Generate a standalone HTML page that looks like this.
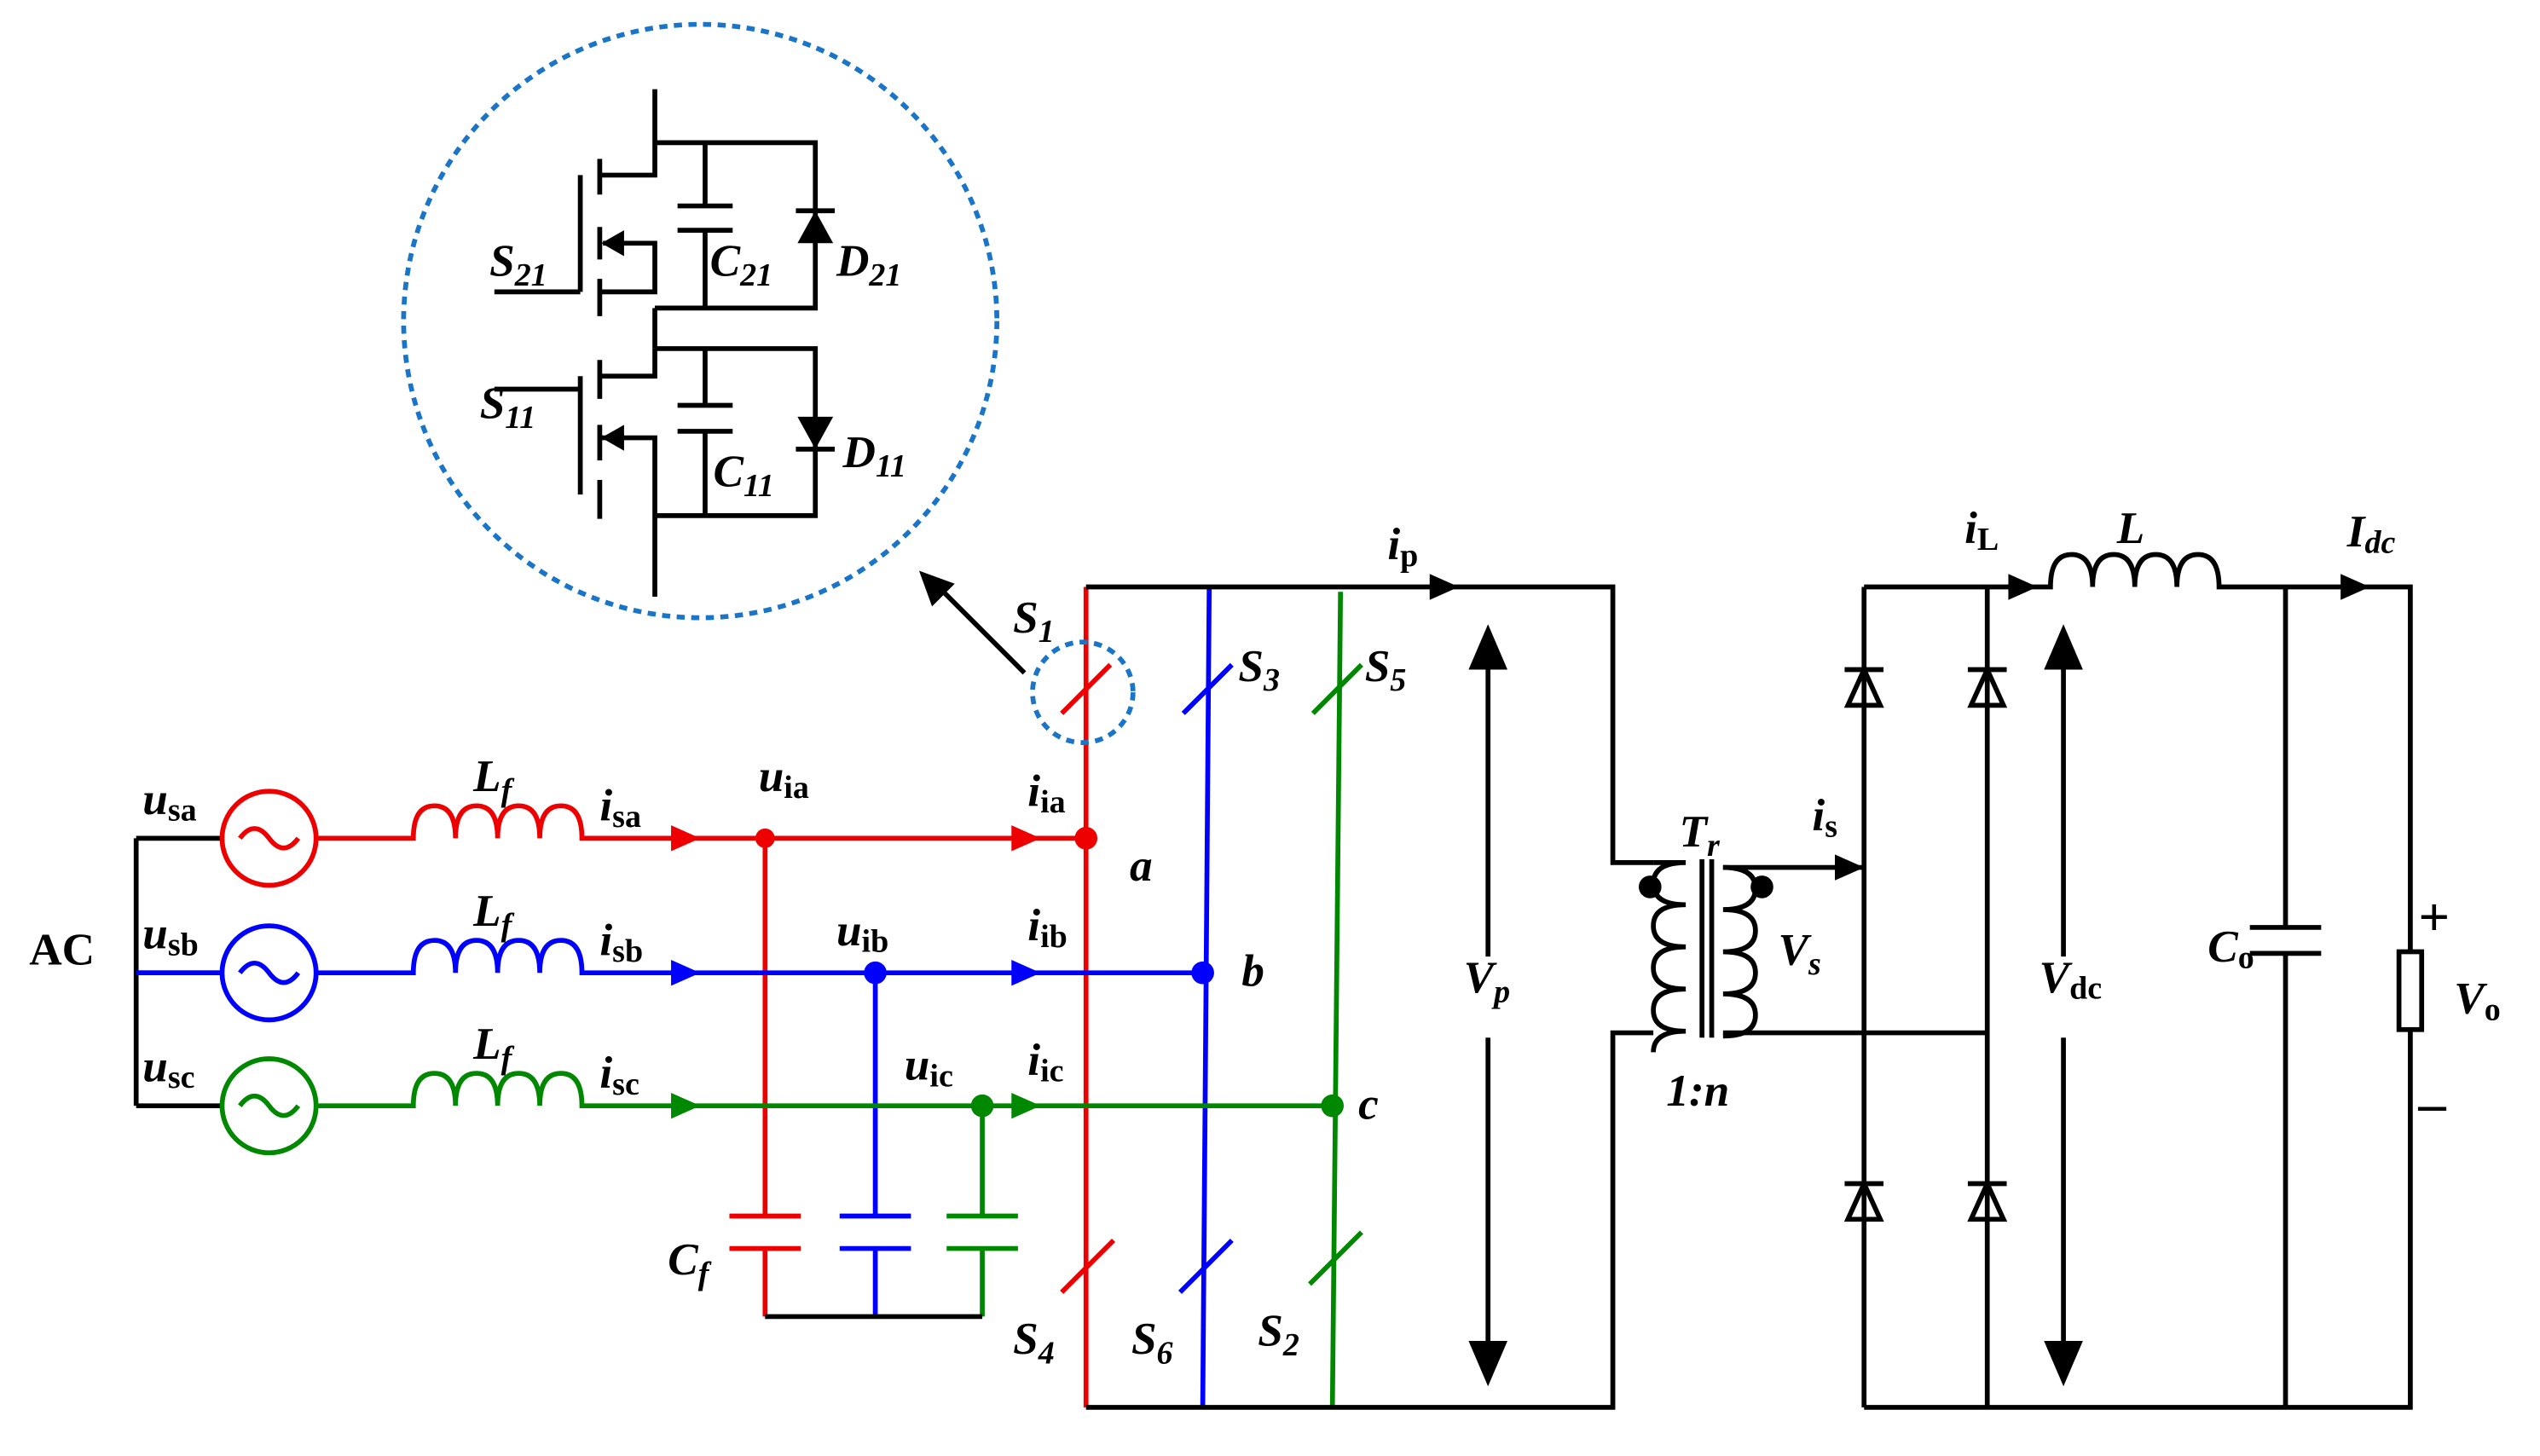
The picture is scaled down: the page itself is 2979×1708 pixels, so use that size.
<!DOCTYPE html>
<html><head><meta charset="utf-8"><style>
html,body{margin:0;padding:0;background:#fff;width:2979px;height:1708px;overflow:hidden}
svg{display:block}
text{font-family:"Liberation Serif",serif;font-weight:bold;font-style:italic}
.n{font-style:normal}
</style></head><body>
<svg width="2979" height="1708" viewBox="0 0 1567 898" preserveAspectRatio="none" xmlns="http://www.w3.org/2000/svg">
<g fill="none" stroke-width="3">
<path d="M84,517V682M84,517H137M84,600H137M84,682H137" stroke="#000"/>
<g stroke="#e00">
<circle cx="166" cy="517" r="29"/><path d="M148,517q9,-12 18,0t18,0"/>
<path d="M195,517H255q0,-20 13,-20t13,20q0,-20 13,-20t13,20q0,-20 13,-20t13,20q0,-20 13,-20t13,20H670"/>
<path d="M472,517V750M450,750H494M450,770H494M472,770V812"/>
<path d="M670,362V868"/>
<path d="M655,440L685,410M655,797L687,765"/>
</g>
<g stroke="#00f">
<circle cx="166" cy="600" r="29"/><path d="M148,600q9,-12 18,0t18,0"/>
<path d="M84,600H137M195,600H255q0,-20 13,-20t13,20q0,-20 13,-20t13,20q0,-20 13,-20t13,20q0,-20 13,-20t13,20H742"/>
<path d="M540,600V750M518,750H562M518,770H562M540,770V812"/>
<path d="M746,362L742,868"/>
<path d="M730,440L760,410M728,797L760,765"/>
</g>
<g stroke="#080">
<circle cx="166" cy="682" r="29"/><path d="M148,682q9,-12 18,0t18,0"/>
<path d="M195,682H255q0,-20 13,-20t13,20q0,-20 13,-20t13,20q0,-20 13,-20t13,20q0,-20 13,-20t13,20H822"/>
<path d="M606,682V750M584,750H628M584,770H628M606,770V812"/>
<path d="M827,365L822,868"/>
<path d="M810,440L840,410M808,792L840,760"/>
</g>
<path d="M472,812H606" stroke="#000"/>
<path d="M670,362H995V532H1020M670,868H995V637H1020" stroke="#000"/>
<path d="M1020,532H1040q-20,0 -20,13t20,13q-20,0 -20,13t20,13q-20,0 -20,13t20,13q-20,0 -20,13t20,13q-20,0 -20,13H1020" stroke="#000"/>
<path d="M1050,530V640M1056,530V640" stroke="#000"/>
<path d="M1063,535q20,0 20,13t-20,13q20,0 20,13t-20,13q20,0 20,13t-20,13q20,0 20,13t-20,13" stroke="#000"/>
<path d="M1063,535H1150M1063,637H1226" stroke="#000"/>
<path d="M1150,362V868M1226,362V868M1150,362H1265q0,-20 13,-20t13,20q0,-20 13,-20t13,20q0,-20 13,-20t13,20q0,-20 13,-20t13,20H1487V587M1487,635V868H1150" stroke="#000"/>
<path d="M1410,362V572M1388,572H1432M1388,588H1432M1410,588V868" stroke="#000"/>
<rect x="1480" y="587" width="14" height="48" stroke="#000"/>
<path d="M918,590V392M918,640V848M1273,590V392M1273,640V848" stroke="#000"/>
<circle cx="668" cy="427" r="31" stroke="#1a75c9" stroke-dasharray="5,4"/>
<circle cx="432" cy="198" r="183" stroke="#1a75c9" stroke-dasharray="5,4"/>
<path d="M632,415L575,358" stroke="#000"/>
<g stroke="#000">
<path d="M404,55V108H370M404,88H503V190H404M435,88V127M418,127H452M418,142H452M435,142V190"/>
<path d="M370,98V120M370,140V160M370,172V195M358,108V180M305,180H358M370,180H404V150H372M404,190V215"/>
<path d="M404,215H503V318H404M435,215V250M418,250H452M418,266H452M435,266V318"/>
<path d="M404,215V232H370M370,222V246M370,262V284M370,296V320M358,232V305M330,240H358M330,240H305M370,270H404V318M404,318V368"/>
</g>
</g>
<g fill="#000">
<path d="M567,352l22,8l-14,14z"/>
<path d="M918,385l-12,28h24zM918,855l-12,-28h24zM1273,385l-12,28h24zM1273,855l-12,-28h24z"/>
<path d="M900,362l-18,-8v16zM1257,362l-18,-8v16zM1462,362l-18,-8v16zM1150,535l-18,-8v16z"/>
<circle cx="1018" cy="547" r="7"/><circle cx="1087" cy="547" r="7"/>
<path d="M1150,413l-10,22h20zM1226,413l-10,22h20zM1150,730l-10,22h20zM1226,730l-10,22h20z" fill="none" stroke="#000" stroke-width="3"/>
<path d="M1138,413h24M1214,413h24M1138,730h24M1214,730h24" stroke="#000" stroke-width="3"/>
<path d="M503,130l-11,20h22z"/><path d="M491,130h24" stroke="#000" stroke-width="3"/>
<path d="M503,277l-11,-20h22z"/><path d="M491,277h24" stroke="#000" stroke-width="3"/>
<path d="M371,150l14,-8v16zM371,270l14,-8v16z"/>
</g>
<g fill="#e00"><path d="M432,517l-18,-8v16zM642,517l-18,-8v16z"/><circle cx="472" cy="517" r="6"/><circle cx="670" cy="517" r="7"/></g>
<g fill="#00f"><path d="M432,600l-18,-8v16zM642,600l-18,-8v16z"/><circle cx="540" cy="600" r="7"/><circle cx="742" cy="600" r="7"/></g>
<g fill="#080"><path d="M432,682l-18,-8v16zM642,682l-18,-8v16z"/><circle cx="606" cy="682" r="7"/><circle cx="822" cy="682" r="7"/></g>
<g font-size="28" fill="#000">
<text x="18" y="595" class="n">AC</text>
<text x="88" y="502">u<tspan class="n" font-size="20" dy="4">sa</tspan></text>
<text x="88" y="585">u<tspan class="n" font-size="20" dy="4">sb</tspan></text>
<text x="88" y="667">u<tspan class="n" font-size="20" dy="4">sc</tspan></text>
<text x="292" y="488">L<tspan font-size="20" dy="6">f</tspan></text>
<text x="292" y="571">L<tspan font-size="20" dy="6">f</tspan></text>
<text x="292" y="653">L<tspan font-size="20" dy="6">f</tspan></text>
<text x="370" y="506">i<tspan class="n" font-size="20" dy="4">sa</tspan></text>
<text x="370" y="589">i<tspan class="n" font-size="20" dy="4">sb</tspan></text>
<text x="370" y="671">i<tspan class="n" font-size="20" dy="4">sc</tspan></text>
<text x="468" y="488">u<tspan class="n" font-size="20" dy="4">ia</tspan></text>
<text x="516" y="583">u<tspan class="n" font-size="20" dy="4">ib</tspan></text>
<text x="558" y="666">u<tspan class="n" font-size="20" dy="4">ic</tspan></text>
<text x="634" y="497">i<tspan class="n" font-size="20" dy="4">ia</tspan></text>
<text x="634" y="580">i<tspan class="n" font-size="20" dy="4">ib</tspan></text>
<text x="634" y="663">i<tspan class="n" font-size="20" dy="4">ic</tspan></text>
<text x="697" y="543">a</text><text x="766" y="608">b</text><text x="838" y="690">c</text>
<text x="412" y="786">C<tspan font-size="20" dy="6">f</tspan></text>
<text x="625" y="390">S<tspan font-size="20" dy="6">1</tspan></text>
<text x="764" y="420">S<tspan font-size="20" dy="6">3</tspan></text>
<text x="842" y="420">S<tspan font-size="20" dy="6">5</tspan></text>
<text x="625" y="835">S<tspan font-size="20" dy="6">4</tspan></text>
<text x="698" y="835">S<tspan font-size="20" dy="6">6</tspan></text>
<text x="776" y="830">S<tspan font-size="20" dy="6">2</tspan></text>
<text x="856" y="345">i<tspan class="n" font-size="20" dy="4">p</tspan></text>
<text x="903" y="612">V<tspan font-size="20" dy="6">p</tspan></text>
<text x="1036" y="522">T<tspan font-size="20" dy="6">r</tspan></text>
<text x="1097" y="595">V<tspan font-size="20" dy="6">s</tspan></text>
<text x="1028" y="682">1:n</text>
<text x="1118" y="512">i<tspan class="n" font-size="20" dy="4">s</tspan></text>
<text x="1212" y="335">i<tspan class="n" font-size="20" dy="4">L</tspan></text>
<text x="1306" y="335">L</text>
<text x="1448" y="337">I<tspan font-size="20" dy="4">dc</tspan></text>
<text x="1258" y="612">V<tspan class="n" font-size="20" dy="4">dc</tspan></text>
<text x="1362" y="593">C<tspan class="n" font-size="20" dy="4">o</tspan></text>
<text x="1514" y="625">V<tspan class="n" font-size="20" dy="4">o</tspan></text>
<text x="1492" y="577" class="n" font-size="34">+</text>
<text x="1492" y="692" class="n" font-size="34">–</text>
<text x="302" y="170">S<tspan font-size="20" dy="6">21</tspan></text>
<text x="438" y="170">C<tspan font-size="20" dy="6">21</tspan></text>
<text x="516" y="170">D<tspan font-size="20" dy="6">21</tspan></text>
<text x="296" y="258">S<tspan font-size="20" dy="6">11</tspan></text>
<text x="440" y="300">C<tspan font-size="20" dy="6">11</tspan></text>
<text x="520" y="288">D<tspan font-size="20" dy="6">11</tspan></text>
</g>
</svg>
</body></html>
